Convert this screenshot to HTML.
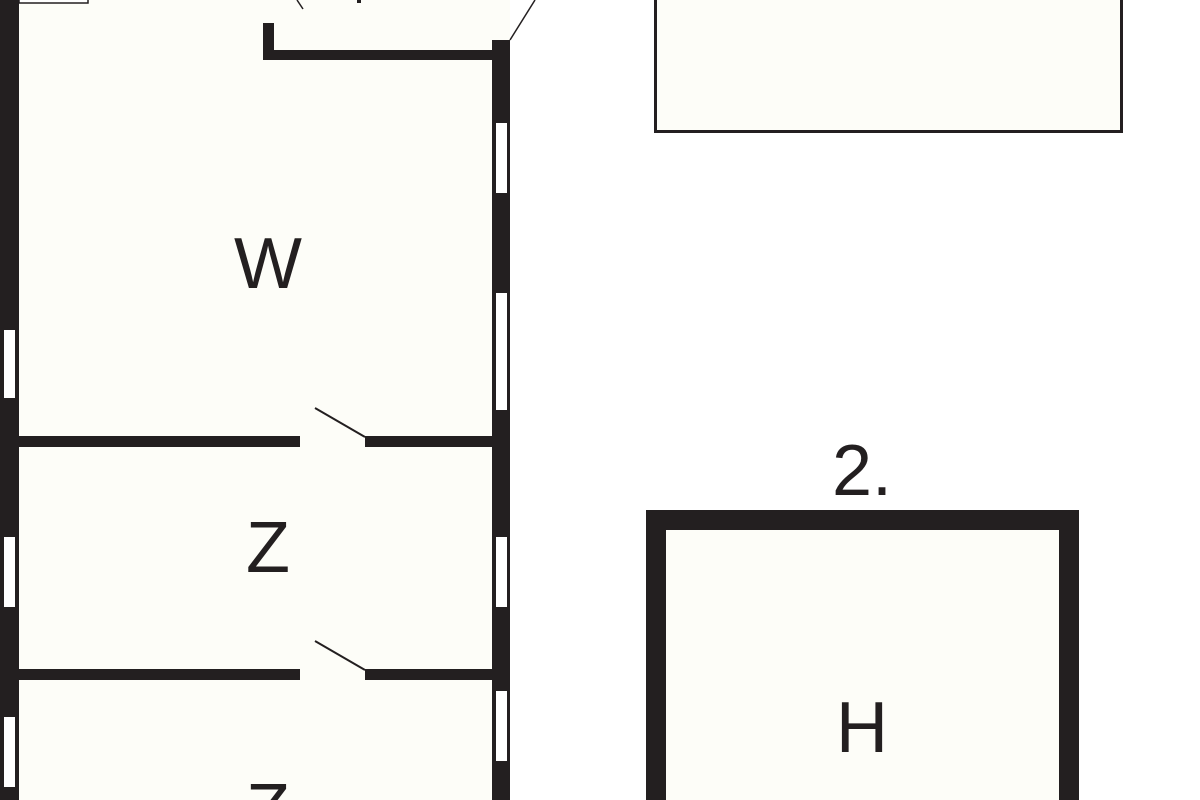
<!DOCTYPE html>
<html><head><meta charset="utf-8"><style>
html,body{margin:0;padding:0;background:#fff;width:1200px;height:800px;overflow:hidden}
svg{display:block}
svg text{font-family:"Liberation Sans",sans-serif;fill:#231f20}
</style></head><body>
<svg width="1200" height="800" viewBox="0 0 1200 800" xmlns="http://www.w3.org/2000/svg">
<rect x="17" y="0" width="478" height="800" fill="#fdfdf8"/>
<rect x="262" y="0" width="248" height="40" fill="#fdfdf8"/>
<rect x="0" y="0" width="19" height="800" fill="#231f20"/>
<rect x="4" y="330" width="11" height="68" fill="#fff"/>
<rect x="4" y="537" width="11" height="70" fill="#fff"/>
<rect x="4" y="717" width="11" height="70" fill="#fff"/>
<rect x="19" y="-2" width="69" height="5" fill="#fff" stroke="#231f20" stroke-width="1.5"/>
<rect x="263" y="23" width="11" height="37" fill="#231f20"/>
<rect x="263" y="50" width="232" height="10" fill="#231f20"/>
<rect x="357" y="0" width="4" height="3" fill="#231f20"/>
<line x1="297" y1="0" x2="303" y2="9" stroke="#231f20" stroke-width="1.5"/>
<rect x="492" y="40" width="18" height="760" fill="#231f20"/>
<line x1="510" y1="40" x2="535" y2="0" stroke="#231f20" stroke-width="1.5"/>
<rect x="496" y="123" width="11" height="70" fill="#fff"/>
<rect x="496" y="293" width="11" height="117" fill="#fff"/>
<rect x="496" y="537" width="11" height="70" fill="#fff"/>
<rect x="496" y="691" width="11" height="70" fill="#fff"/>
<rect x="19" y="436" width="281" height="11" fill="#231f20"/>
<rect x="365" y="436" width="128" height="11" fill="#231f20"/>
<line x1="315" y1="408" x2="365" y2="437" stroke="#231f20" stroke-width="2"/>
<rect x="19" y="669" width="281" height="11" fill="#231f20"/>
<rect x="365" y="669" width="128" height="11" fill="#231f20"/>
<line x1="315" y1="641" x2="365" y2="670" stroke="#231f20" stroke-width="2"/>
<text x="268" y="288" font-size="72" text-anchor="middle">W</text>
<text x="268" y="572" font-size="72" text-anchor="middle">Z</text>
<text x="268" y="834" font-size="72" text-anchor="middle">Z</text>
<rect x="655.5" y="-5" width="466" height="136.5" fill="#fdfdf8" stroke="#231f20" stroke-width="3"/>
<rect x="656" y="520" width="413" height="290" fill="#fdfdf8" stroke="#231f20" stroke-width="20"/>
<text x="862" y="495" font-size="72" text-anchor="middle">2.</text>
<text x="862" y="752" font-size="72" text-anchor="middle">H</text>
</svg>
</body></html>
